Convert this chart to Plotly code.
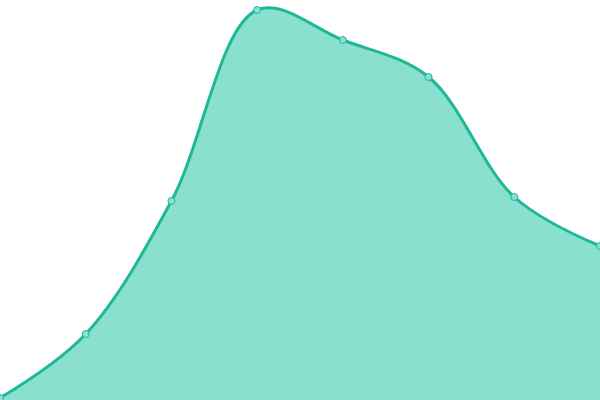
import plotly.graph_objects as go

# index positions and values
x_values = [0, 1, 2, 3, 4, 5, 6, 7]
y_values = [2, 66, 199, 390, 360, 323, 203, 154]

fig = go.Figure()
fig.add_trace(go.Scatter(
    x=x_values,
    y=y_values,
    mode='lines+markers',
    line=dict(color='#1fb796', width=3, shape='spline', smoothing=1),
    marker=dict(size=7, color='#89e0cf', line=dict(color='#1fb796', width=1)),
    fill='tozeroy',
    fillcolor='#89e0cf',
    hoverinfo='skip',
))

fig.update_layout(
    width=600,
    height=400,
    margin=dict(l=0, r=0, t=0, b=0),
    paper_bgcolor='white',
    plot_bgcolor='white',
    showlegend=False,
    xaxis=dict(range=[0, 7], visible=False, fixedrange=True),
    yaxis=dict(range=[0, 400], visible=False, fixedrange=True),
)

# drop the default body margin so the chart sits flush in the window
fig.write_html(
    "out.html",
    config={'displayModeBar': False},
    post_script="document.body.style.margin='0';document.body.style.overflow='hidden';",
)
